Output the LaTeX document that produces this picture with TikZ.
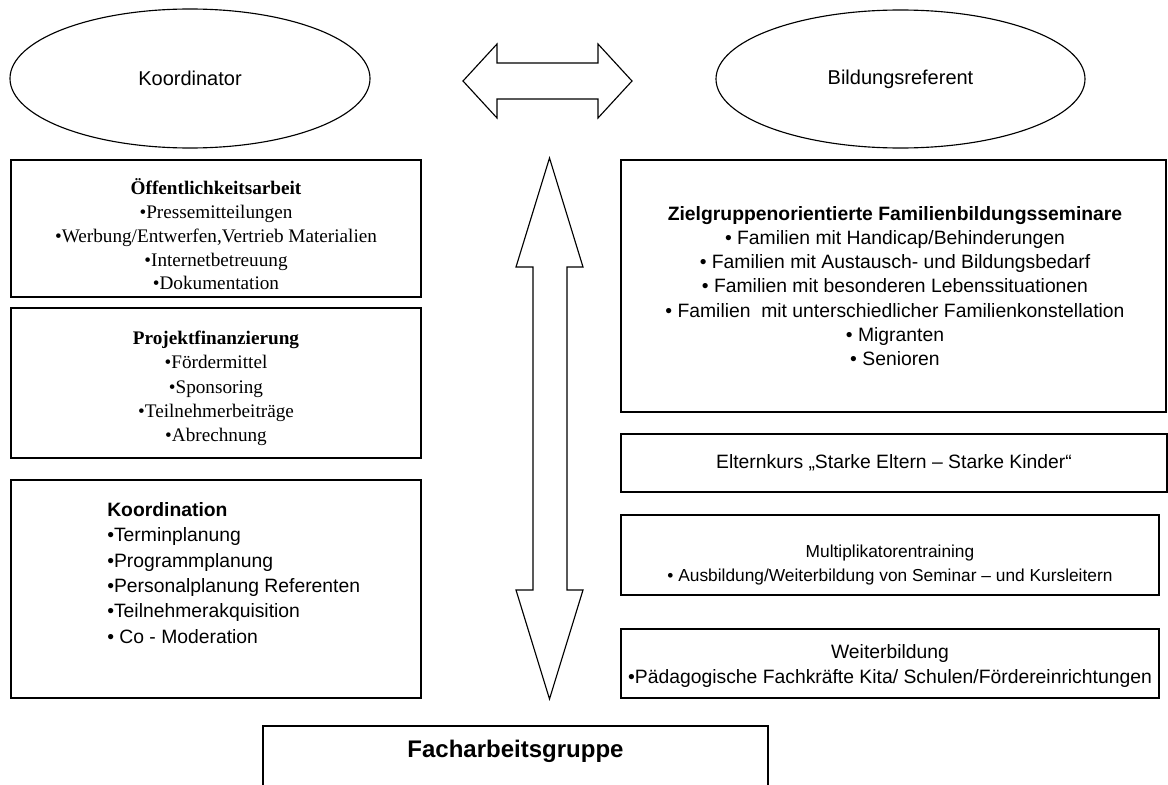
\documentclass[tikz,border=0pt]{standalone}
\usepackage{fontspec}
\setmainfont{Liberation Sans}
\newfontfamily\timesf{Liberation Serif}
\usetikzlibrary{shapes.geometric,fit}
\begin{document}
\begin{tikzpicture}[x=0.75pt,y=-0.75pt,
  line join=miter,
  frame/.style={draw, line width=1pt, inner sep=0pt, outer sep=0pt, rectangle},
  oval/.style={draw, line width=0.85pt, ellipse, inner sep=0pt, outer sep=0pt,
    font=\fontsize{15pt}{18pt}\selectfont},
  bigarrow/.style={draw, line width=0.85pt, fill=white},
  serif/.style={inner sep=0pt, align=center, font=\timesf\fontsize{14.4pt}{#1}\selectfont},
  sans/.style={inner sep=0pt, align=center, font=\fontsize{14.5pt}{#1}\selectfont},
  sanssmall/.style={inner sep=0pt, align=center, font=\fontsize{13pt}{#1}\selectfont},
  sansleft/.style={inner sep=0pt, align=left, anchor=west, font=\fontsize{14.5pt}{#1}\selectfont}
]
\useasboundingbox (0,0) rectangle (1168,785);
\clip (0,0) rectangle (1168,785);

% ellipses
\node[oval, minimum width=270pt, minimum height=104.25pt] (koord) at (190,78.5) {Koordinator};
\node[oval, minimum width=276.75pt, minimum height=103.5pt] (bild) at (900.5,79) {Bildungsreferent};

% horizontal double arrow
\draw[bigarrow] (463,81) -- (497,44) -- (497,63) -- (598,63) -- (598,44) -- (632,81)
  -- (598,118) -- (598,99) -- (497,99) -- (497,118) -- cycle;

% vertical double arrow
\draw[bigarrow] (549.5,158) -- (583,267) -- (567,267) -- (567,590) -- (583,590) -- (549.5,699)
  -- (516,590) -- (533,590) -- (533,267) -- (516,267) -- cycle;

% left boxes
\node[frame, fit={(11,160) (421,297)}] (oeff) {};
\node[serif=17.8pt] (oefftxt) at (216,234.5) {{\bfseries Öffentlichkeitsarbeit}\\•Pressemitteilungen\\•Werbung/Entwerfen,Vertrieb Materialien\\•Internetbetreuung\\•Dokumentation};

\node[frame, fit={(11,308) (421,458)}] (proj) {};
\node[serif=18.2pt] (projtxt) at (216,388.5) {{\bfseries Projektfinanzierung}\\•Fördermittel\\•Sponsoring\\•Teilnehmerbeiträge\\•Abrechnung};

\node[frame, fit={(11,480) (421,698)}] (koordbox) {};
\node[sansleft=19pt] (koordtxt) at (107,573) {{\bfseries Koordination}\\•Terminplanung\\•Programmplanung\\•Personalplanung Referenten\\•Teilnehmerakquisition\\• Co - Moderation};

% right boxes
\node[frame, fit={(621,160) (1166,412)}] (ziel) {};
\node[sans=18.2pt] (zieltxt) at (895,286) {{\bfseries Zielgruppenorientierte Familienbildungsseminare}\\• Familien mit Handicap/Behinderungen\\• Familien mit Austausch- und Bildungsbedarf\\• Familien mit besonderen Lebenssituationen\\• Familien\ \ mit unterschiedlicher Familienkonstellation\\• Migranten\\• Senioren};

\node[frame, fit={(621,434) (1167,492)}] (eltern) {};
\node[sans=18pt] (elterntxt) at (894,463) {Elternkurs „Starke Eltern – Starke Kinder“};

\node[frame, fit={(621,515) (1159,595)}] (multi) {};
\node[sanssmall=18pt] (multitxt) at (890,565) {Multiplikatorentraining\\• Ausbildung/Weiterbildung von Seminar – und Kursleitern};

\node[frame, fit={(621,629) (1159,698)}] (weiter) {};
\node[sans=18.75pt] (weitertxt) at (890,665.5) {Weiterbildung\\•Pädagogische Fachkräfte Kita/ Schulen/Fördereinrichtungen};

% bottom box (open at the bottom edge of the page)
\draw[line width=1pt] (263,800) -- (263,726) -- (768,726) -- (768,800);
\node[inner sep=0pt, font=\bfseries\fontsize{18pt}{21pt}\selectfont] (fach) at (515.5,751) {Facharbeitsgruppe};
\end{tikzpicture}
\end{document}
